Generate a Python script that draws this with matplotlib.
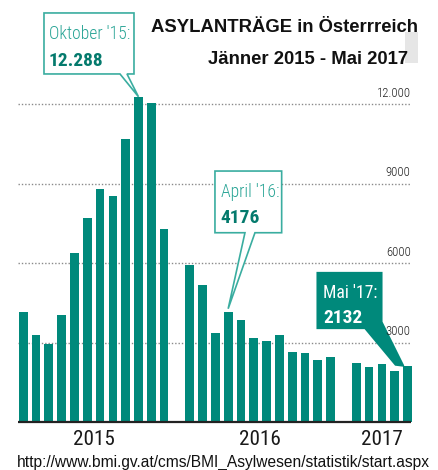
import os
import matplotlib
matplotlib.use('Agg')
import matplotlib.pyplot as plt
from matplotlib import font_manager as fm
from matplotlib.patches import Polygon, Rectangle
from matplotlib.transforms import IdentityTransform
import numpy as np

plt.rcParams['font.family'] = ['Liberation Sans', 'DejaVu Sans']

# monthly asylum applications
years = ['2015', '2016', '2017']
values_2015 = [4155, 3298, 2943, 4049, 6404, 7698, 8808, 8555, 10683, 12288, 12050, 7287]
values_2016 = [5940, 5185, 3381, 4176, 3864, 3200, 3087, 3289, 2642, 2604, 2351, 2453]
values_2017 = [2234, 2094, 2185, 1921, 2132]
grid_values = [3000, 6000, 9000, 12000]
grid_labels = ['3000', '6000', '9000', '12.000']

title1 = 'ASYLANTRÄGE in Österrreich'
title2 = 'Jänner 2015 - Mai 2017'
source = 'http://www.bmi.gv.at/cms/BMI_Asylwesen/statistik/start.aspx'

TEAL = '#00897b'
EDGE = '#3aada0'


def font_file(*names):
    files = {os.path.splitext(os.path.basename(f.fname))[0].lower(): f.fname
             for f in fm.fontManager.ttflist}
    for n in names:
        if n.lower() in files:
            return fm.FontProperties(fname=files[n.lower()])
    return fm.FontProperties(family='Liberation Sans')


cond_light = font_file('NotoSans-ExtraCondensedLight', 'NotoSans-CondensedLight',
                       'RobotoCondensed-Light', 'LiberationSansNarrow-Regular',
                       'NotoSans-Condensed', 'DejaVuSansCondensed')
cond_reg = font_file('NotoSans-ExtraCondensed', 'NotoSans-Condensed',
                     'RobotoCondensed-Regular', 'LiberationSansNarrow-Regular',
                     'DejaVuSansCondensed')
cond_bold = font_file('NotoSans-ExtraCondensedSemiBold', 'NotoSans-ExtraCondensedBold',
                      'NotoSans-CondensedBold', 'RobotoCondensed-Bold',
                      'LiberationSansNarrow-Bold', 'DejaVuSansCondensed-Bold')
url_fp = font_file('LiberationSansNarrow-Regular', 'LiberationSans-Regular')
title_fp = fm.FontProperties(family='Liberation Sans', weight='bold')

W, H = 438, 470
fig = plt.figure(figsize=(W / 100, H / 100), dpi=100)
ax = fig.add_axes([0, 0, 1, 1])
ax.set_axis_off()

# pixel layout of the reference
slot_px = 12.81
first_px = 23.2
base_px = 422.4
unit_px = 0.0265
ax.set_xlim(-first_px / slot_px, (W - first_px) / slot_px)
ax.set_ylim(-(H - base_px) / unit_px, base_px / unit_px)

renderer = fig.canvas.get_renderer()


def fit(s, width, fp):
    t = fig.text(0, 0, s, fontproperties=fp, fontsize=10)
    w = t.get_window_extent(renderer).width
    t.remove()
    return 10 * width / w


# bar positions: one empty slot between the years
series = [values_2015, values_2016, values_2017]
x_pos, heights, year_mid, slots = [], [], [], []
start = 0
for vals in series:
    xs = np.arange(start, start + len(vals))
    slots.append(xs)
    x_pos.extend(xs)
    heights.extend(vals)
    year_mid.append(xs.mean())
    start += len(vals) + 1

xmin, xmax = x_pos[0] - 0.42, x_pos[-1] + 0.25

ax.hlines(grid_values, xmin, xmax, colors='#8a8a8a', linestyles=(0, (1, 1.4)),
          lw=1.0, zorder=1)
ax.bar(x_pos, heights, width=0.68, color=TEAL, zorder=2)
ax.hlines(0, xmin, xmax, colors='#222222', lw=1.6, zorder=3)

tick_size = fit('12.000', 30, cond_light) * 1.15
for v, lab in zip(grid_values, grid_labels):
    ax.annotate(lab, xy=(xmax, v), xytext=(0, 5.5), textcoords='offset points',
                ha='right', va='baseline', fontproperties=cond_light,
                fontsize=tick_size, color='#222222', zorder=8)

year_size = fit('2015', 36, cond_reg) * 1.15
for m, y in zip(year_mid, years):
    ax.annotate(y, xy=(m, 0), xytext=(0, -16.3), textcoords='offset points',
                ha='center', va='baseline', fontproperties=cond_reg,
                fontsize=year_size, color='#1a1a1a')

lab_size = fit("Oktober '15:", 81, cond_light)
val_size = fit('12.288', 45.7, cond_bold) * 1.2


def callout(x, v, verts, top, inset, lines, face, edge, colors, fps):
    tx, ty = ax.transData.transform((x, v))
    poly = Polygon([(tx + dx, ty + dy) for dx, dy in verts], closed=True,
                   transform=IdentityTransform(), facecolor=face, edgecolor=edge,
                   lw=1.2, zorder=5, clip_on=False)
    ax.add_patch(poly)
    left = min(dx for dx, dy in verts)
    for (txt, base), c, fp, fs in zip(lines, colors, fps, [lab_size, val_size]):
        fig.text((tx + left + inset) / W, (ty + top - base) / H, txt,
                 fontproperties=fp, fontsize=fs, color=c, va='baseline', zorder=6)


# Oktober '15
x, v = slots[0][9], values_2015[9]
callout(x, v, [(-94.5, 83.8), (-4.5, 83.8), (-4.5, 22.8), (-11.5, 22.8), (0, 0),
               (-18.5, 22.8), (-94.5, 22.8)], 83.8, 5,
        [("Oktober '15:", 26), ('12.288', 53)], 'white', EDGE,
        ['#2aa596', '#047a6d'], [cond_light, cond_bold])

# April '16
x, v = slots[1][3], values_2016[3]
callout(x, v, [(-13.2, 140.7), (53.5, 140.7), (53.5, 79), (26.8, 79), (0, 3),
               (16.8, 79), (-13.2, 79)], 140.7, 5.7,
        [("April '16:", 26), ('4176', 51.5)], 'white', EDGE,
        ['#2aa596', '#047a6d'], [cond_light, cond_bold])

# Mai '17
x, v = slots[2][4], values_2017[4]
callout(x, v, [(-90.2, 93.2), (-25.8, 93.2), (-25.8, 44), (-4, 0), (-12, 1),
               (-42.5, 37.6), (-90.2, 37.6)], 93.2, 6,
        [("Mai '17:", 25), ('2132', 50)], TEAL, TEAL,
        ['white', 'white'], [cond_reg, cond_bold])

# title block
fig.patches.append(Rectangle((405 / W, 1 - 63 / H), 13 / W, 31 / H,
                             transform=fig.transFigure, facecolor='#e6e6e6',
                             edgecolor='none', zorder=0))
title_size = fit(title1, 268, title_fp)
fig.text(418 / W, 1 - 32 / H, title1, ha='right', va='baseline',
         fontproperties=title_fp, fontsize=title_size, color='#111111')
fig.text(408 / W, 1 - 64 / H, title2, ha='right', va='baseline',
         fontproperties=title_fp, fontsize=title_size, color='#111111')

url_size = fit(source, 413, url_fp)
fig.text(223.5 / W, 1 - 467 / H, source, ha='center', va='baseline',
         fontproperties=url_fp, fontsize=url_size, color='#111111')

fig.savefig('out.png', dpi=100)
